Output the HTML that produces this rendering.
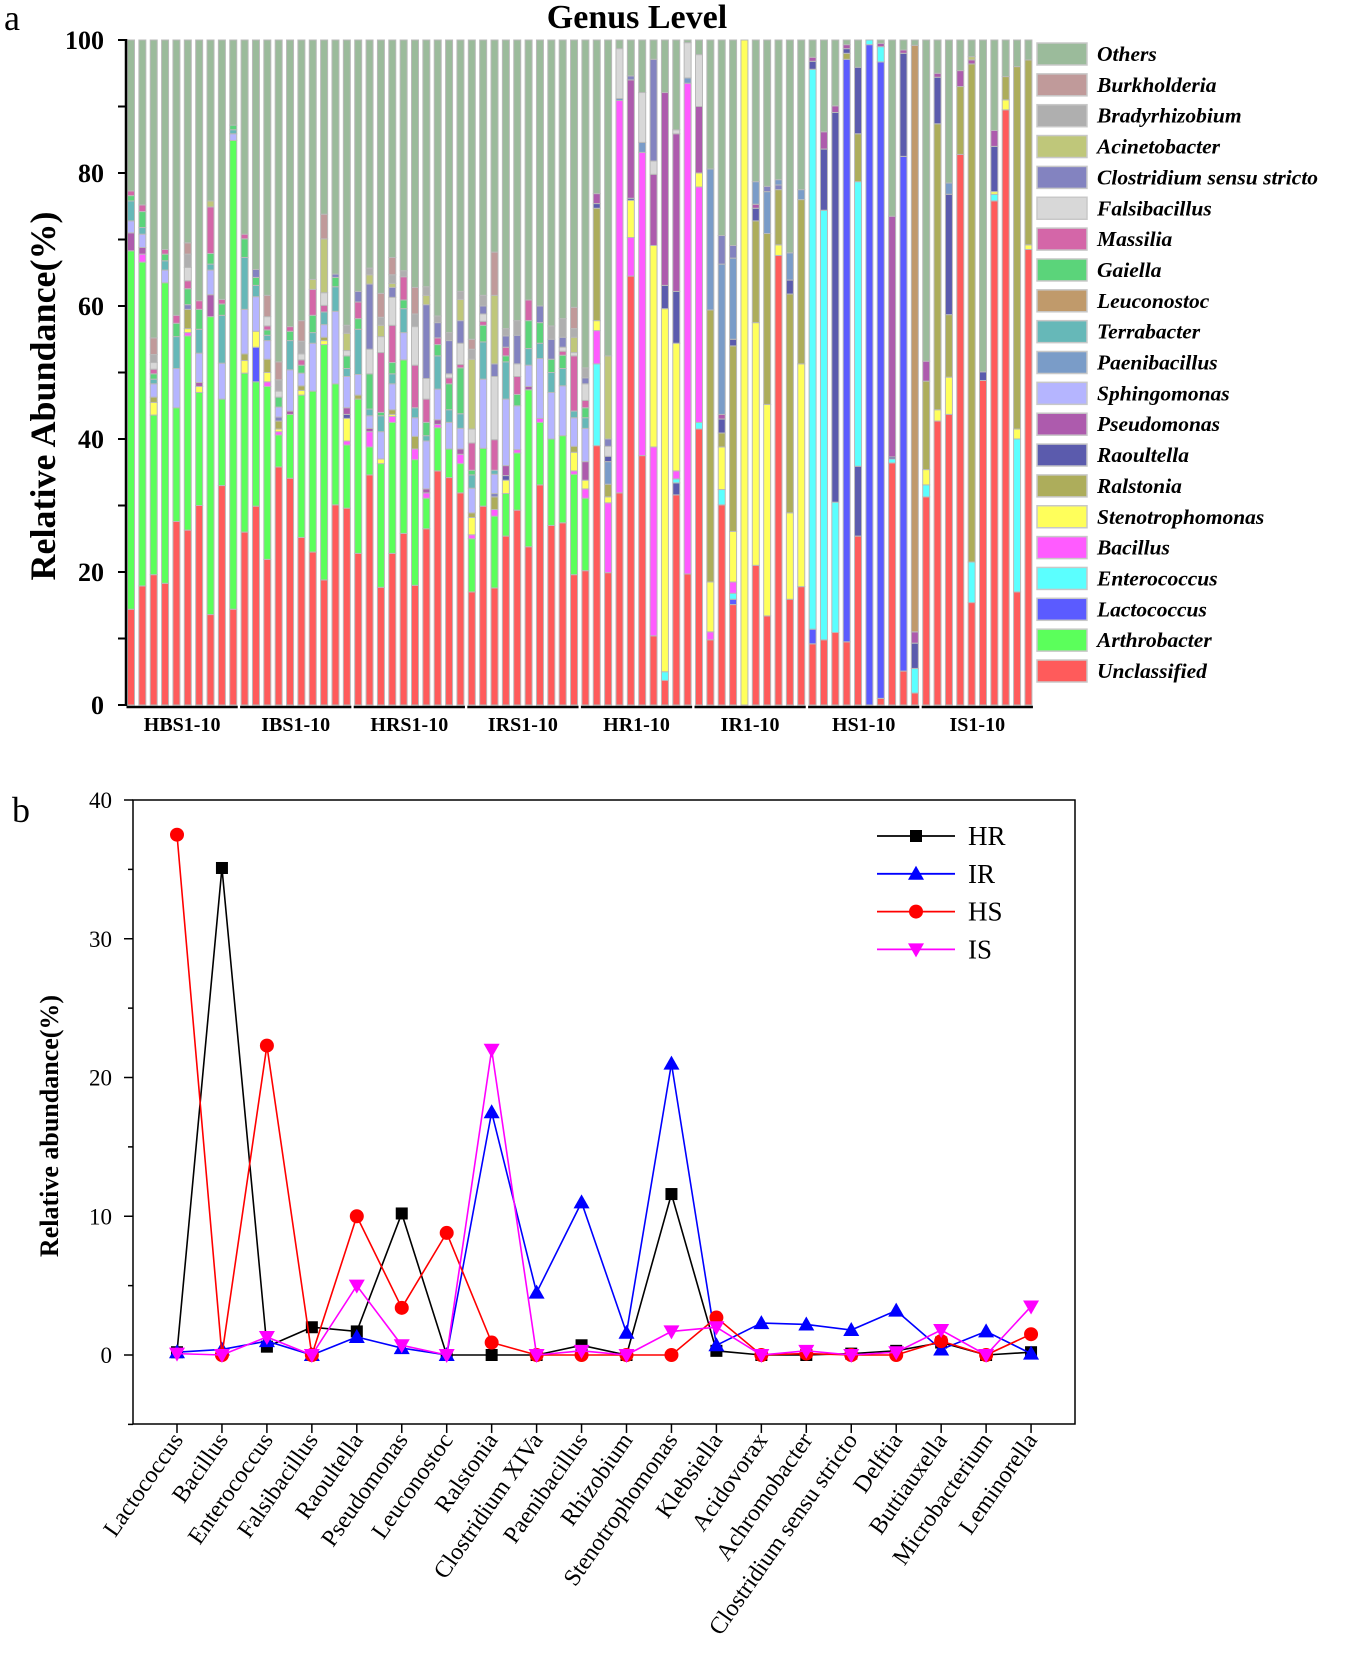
<!DOCTYPE html>
<html><head><meta charset="utf-8"><style>
html,body{margin:0;padding:0;background:#fff;}
svg{display:block;font-family:"Liberation Serif",serif;}
</style></head><body>
<svg id="root" width="1349" height="1658" viewBox="0 0 1349 1658" xmlns="http://www.w3.org/2000/svg">
<text x="4" y="30" font-size="36">a</text>
<text x="637" y="28" font-size="34" font-weight="bold" text-anchor="middle">Genus Level</text>
<text x="0" y="0" font-size="36" font-weight="bold" text-anchor="middle" transform="translate(55,396) rotate(-90)">Relative Abundance(%)</text>
<g id="chartA"></g>
<g id="legendA"></g>
<text x="12" y="822" font-size="36">b</text>
<rect x="133" y="800" width="942" height="624" fill="none" stroke="#000" stroke-width="1.5"/>
<text x="0" y="0" font-size="26" font-weight="bold" text-anchor="middle" transform="translate(58,1126) rotate(-90)">Relative abundance(%)</text>
<g id="chartB"></g>
</svg>
<script>
const genusNames = ["Unclassified","Arthrobacter","Lactococcus","Enterococcus","Bacillus","Stenotrophomonas","Ralstonia","Raoultella","Pseudomonas","Sphingomonas","Paenibacillus","Terrabacter","Leuconostoc","Gaiella","Massilia","Falsibacillus","Clostridium sensu stricto","Acinetobacter","Bradyrhizobium","Burkholderia","Others"];
const genusCodes = ["U","A","L","E","B","S","R","O","P","G","N","T","C","I","M","F","K","Q","Y","H","X"];
const genusColors = ["#FF5B5B","#5BFF5B","#5B5BFF","#5BFFFF","#FF5BFF","#FFFF5B","#ADAD5B","#5B5BAD","#AD5BAD","#B5B5FF","#7A9CC8","#66B8B8","#C09A6B","#5BD47A","#D466A8","#D8D8D8","#8383C0","#BFC77A","#AFAFAF","#C09A9A","#9BBB9B"];
const groupLabels = ["HBS1-10","IBS1-10","HRS1-10","IRS1-10","HR1-10","IR1-10","HS1-10","IS1-10"];
const yTicksA = [0,20,40,60,80,100];
// cumulative tops (%) per bar; remainder to 100 = Others
const barTops = [
"U14.4 A68.3 P71 G72.8 T75.8 I76.6 M77.3","U17.9 A66.6 B67.8 P68.8 G70.8 T71.8 I74.2 M75.2","U19.6 A43.6 S45.5 R46.3 G48.3 T49 I49.8 M50.5 F51.5 Y52.7 H55.2","U18.3 A63.5 G65.4 T66.8 I67.8 M68.5","U27.6 A44.7 G50.6 T55.4 I57.4 M58.6","U26.3 A55.5 B56 S56.6 R59.5 K60.2 I62.6 M63.8 F65.8 Y67.8 H69.5","U30 A47 S47.9 P48.5 G52.9 T56.5 I59.5 M60.8","U13.6 A58.4 P61.7 G65.4 T66.3 I67.9 M74.9 Q75.8","U33 A46 G51.4 T58.6 I60.3 M61","U14.4 A84.9 G85.9 T86.5 I87.2",
"U26 A49.9 S51.8 R52.8 G59.5 T67.3 I70.1 M70.8","U29.9 A48.6 L53.8 S56.2 G61.4 T63.1 I64.3 K65.5","U21.9 A47.9 B48.6 S50 R52 G54.8 T55.6 I56.4 M57 F58.4 H61.6","U35.8 A40.6 B41.1 S41.5 R42.7 K43.3 G44.8 I46.3 F47.2 Y48.9 H51.6","U34.1 A43.7 P44.2 G50.4 T54.8 I56.2 M56.9","U25.2 A46.6 S47.3 R48 G49.9 I51.1 M51.9 F52.8 Y54.7 H57.8","U23 A47.2 G54.4 T56 I58.6 M62.5 Q64","U18.8 A54.2 S54.8 R55.3 G57.2 T59.1 M60.1 F62 Q70.1 H73.8","U30.1 A48.3 G59.2 T62.9 I64.3 K64.8","U29.6 A39.1 B39.7 S43.1 O43.7 P44.7 G49.4 T50.6 I52.5 F53.3 Q55.9 Y57.1",
"U22.8 A46 R46.6 G49.7 T56.5 I58.1 M60.6 K62.2","U34.6 A38.8 B41.1 P41.6 G43.5 T44.5 I49.8 F53.5 K63.3 Q64.7 Y65.7","U17.7 A36.3 S37 G41.1 T43.5 I44 M53 F55.4 Q57.1 Y58.3 H61.9","U22.8 A42.5 B43.4 S43.7 R44.4 G48.3 T49.8 I51.5 M57.1 F61.3 K62.8 Q63.4 Y64.7 H67.3","U25.8 A51.9 G56 T59.6 I60.9 M64.4 Y65.3","U18 A36.9 B38.5 R40.4 G43.2 T44.7 M51.1 F56.9 Y58.8 H62.8","U26.5 A31.1 B31.9 P32.5 G39.7 T40.5 I42.5 M46 F49.1 K60.2 Q61.6 Y62.9","U35.2 A41.7 B42.2 P42.9 G47.5 T52.5 I54.2 M55.2 K57.5 Y58.5","U34.2 A38.5 G42.5 T44.4 I48.3 M49.2 F49.8 K54.8 Y56","U31.9 A36.3 B37.7 P38.5 G41.6 T43.8 I50.7 M51.2 F54.4 K57.8 Q61 Y62.2",
"U17 A25 B25.6 S28.2 R28.9 G32.6 T34.6 I35.3 M39.4 F41.5 Q52 Y53.5 H55","U29.9 A38.6 G49 T54.6 I57.1 M57.7 F58.8 K60 Y61.6","U17.6 A28.4 B29.4 R31.3 K31.8 G34.7 T35.3 M39.9 F49.4 K51.3 Q61.6 H68.1","U25.4 A31.8 S33.8 O34.5 P36 G46 T51.6 I52.5 M53.8 K55.5 Y56.6","U29.3 A37.9 B38.4 G45 I46.7 M49.4 F51.3 K55.6 Y57.8","U23.8 A47.4 P47.9 G51.1 T53.6 I57.8 M60.9","U33.1 A42.5 B43.1 G52.1 T54.4 I57.5 K60","U27 A40 G47 T50 I52 K55 Y57","U27.4 A40.5 G48 T50.6 I52.6 M53.2 F53.8 K55.3 Y58.1","U19.6 A34.7 B35.2 S38 R38.9 G43.2 T44.2 M52.5 F53 Q55.3 Y56.6 H59.8",
"U20.2 A31.1 B32.5 S33.8 P36.6 G41.6 T43.2 I44.7 M45.8 F48.3 K49.2 Y50.7","U39 E51.3 B56.3 S57.8 R74.7 O75.4 P76.9","U19.9 B30.4 S31.3 R33.2 N36.6 O37.4 F38.9 K40 Q52.5","U31.9 B90.9 N91.2 F98.7","U64.5 B70.3 S75.9 O76.2 P94 K94.6","U37.5 B83.1 N84.6 F92.1","U10.4 B38.8 S69.1 P79.8 F81.8 K97.1","U3.7 E5 S59.6 O63.1 P92.1","U31.6 O33.4 E34 B35.2 S54.4 O62.2 P85.9 F86.5","U19.7 B93.5 N94.3 F99.6",
"U41.5 E42.5 B77.9 S80 P90 F97.8","U9.8 B11 S18.5 R59.4 N80.6","U30.1 E32.4 S38.8 R40.9 O43 P43.7 N66.3 K70.6","U15.1 L15.9 E16.8 B18.5 S26.1 R54 O55 N67.2 K69.1","S100","U21 S57.5 R72.8 O74.7 P75.3 N78.7","U13.4 S45.2 R70.9 N77.2 K78","U67.6 S69.2 R77.5 K78.2 N79","U15.9 S28.9 R61.8 O63.9 N68","U17.8 S51.3 R76 N77.5",
"U9.2 L11.4 E95.6 O96.8 P97.4","U9.8 E74.4 O83.6 P86.2","U10.9 E30.5 O89.1 P90.1","U9.5 L97.1 R98 O98.7 P99.3","U25.4 O35.9 E78.7 R85.9 O95.9","L99.3 E100","U1 L96.7 E99 P99.5","U36.4 E37 O37.3 P73.5","U5.1 L82.5 O98 P98.5","U1.8 E5.5 O9.3 P11 C99.2",
"U31.3 E33.1 S35.4 R48.7 P51.7","U42.7 S44.4 R87.4 O94.4 P95","U43.7 S49.3 R58.7 O76.8 N78.5","U82.8 R93 P95.4","U15.4 E21.5 R96.4 P97 Q97.5","U48.8 O50.1","U75.8 E76.8 S77.2 O84 P86.4","U89.5 S91 R94.5","U17 E40 S41.5 R96","U68.5 S69.2 R97"];

const categoriesB = ["Lactococcus","Bacillus","Enterococcus","Falsibacillus","Raoultella","Pseudomonas","Leuconostoc","Ralstonia","Clostridium XIVa","Paenibacillus","Rhizobium","Stenotrophomonas","Klebsiella","Acidovorax","Achromobacter","Clostridium sensu stricto","Delftia","Buttiauxella","Microbacterium","Leminorella"];
const seriesHR = [0.2,35.1,0.6,2.0,1.7,10.2,0,0,0,0.7,0,11.6,0.3,0,0,0.1,0.3,0.9,0,0.2];
const seriesIR = [0.2,0.4,1.0,0,1.3,0.5,0,17.5,4.5,11,1.6,21,0.7,2.3,2.2,1.8,3.2,0.4,1.7,0.1];
const seriesHS = [37.5,0,22.3,0,10.0,3.4,8.8,0.9,0,0,0,0,2.7,0,0.1,0,0,1.0,0,1.5];
const seriesIS = [0.1,0,1.3,0,5.0,0.7,0,22,0,0.3,0,1.7,2.0,0,0.3,0,0.2,1.8,0,3.5];
const seriesNamesB = ["HR","IR","HS","IS"];
const yTicksB = [0,10,20,30,40];

const NS = "http://www.w3.org/2000/svg";
function mk(tag, attrs, parent){const e=document.createElementNS(NS,tag);for(const k in attrs)e.setAttribute(k,attrs[k]);parent.appendChild(e);return e;}

// ---------- Panel A ----------
const gA = document.getElementById('chartA');
const yA = v => 705 - v*6.65;
const xA = i => 131 + i*11.36;
const barW = 7;
barTops.forEach((s,i)=>{
  const g = mk('g',{},gA);
  
  
  let prev = 0;
  const toks = s.split(' ').map(t=>[t[0],parseFloat(t.slice(1))]);
  toks.push(['X',100]);
  toks.forEach(([c,top])=>{
    if(top<=prev) return;
    const gi = genusCodes.indexOf(c);
    const r = mk('rect',{x:xA(i)-barW/2,y:yA(top),width:barW,height:yA(prev)-yA(top),fill:genusColors[gi],stroke:'#b9b9b9','stroke-width':1},g);
    
    
    prev = top;
  });
});
const axA = mk('line',{x1:126,y1:yA(100)-1,x2:126,y2:yA(0)+1,stroke:'#000','stroke-width':2.5},gA);


for(let v=0;v<=100;v+=10){
  const t = mk('line',{x1:118,y1:yA(v),x2:126,y2:yA(v),stroke:'#000','stroke-width':2},gA);
  
  
}
yTicksA.forEach(v=>{
  const t = mk('text',{x:104,y:yA(v)+9,'font-size':26,'font-weight':'bold','text-anchor':'end'},gA);
  t.textContent = v;
  
  
});
groupLabels.forEach((lab,gi)=>{
  const x1 = xA(gi*10)-barW/2-1, x2 = xA(gi*10+9)+barW/2+1;
  const l = mk('line',{x1:x1,y1:707,x2:x2,y2:707,stroke:'#000','stroke-width':2.5},gA);
  
  
  const t = mk('text',{x:(x1+x2)/2,y:731,'font-size':20,'font-weight':'bold','text-anchor':'middle'},gA);
  t.textContent = lab;
  
  
});
const lgA = document.getElementById('legendA');
for(let k=20;k>=0;k--){
  const row = 20-k;
  const y = 43 + row*30.85;
  const g = mk('g',{},lgA);
  
  
  mk('rect',{x:1037,y:y,width:50,height:22,fill:genusColors[k],stroke:'#c8c8c8','stroke-width':1.5},g);
  const t = mk('text',{x:1097,y:y+18,'font-size':21.5,'font-weight':'bold','font-style':'italic'},g);
  t.textContent = genusNames[k];
}

// ---------- Panel B ----------
const gB = document.getElementById('chartB');
const yB = v => 1355 - v*13.875;
const xB = i => 177 + i*44.95;
for(let v=-5;v<=40;v+=5){
  const major = v%10===0;
  const t = mk('line',{x1:major?124:128,y1:yB(v),x2:133,y2:yB(v),stroke:'#000','stroke-width':1.5},gB);
  
  
}
yTicksB.forEach(v=>{
  const t = mk('text',{x:112,y:yB(v)+8,'font-size':23,'text-anchor':'end'},gB);
  t.textContent = v;
  
  
});
categoriesB.forEach((c,i)=>{
  const tk = mk('line',{x1:xB(i),y1:1424,x2:xB(i),y2:1433,stroke:'#000','stroke-width':1.5},gB);
  
  
  const t = mk('text',{x:0,y:0,'font-size':24,'text-anchor':'end',transform:'translate('+(xB(i)+7)+',1440) rotate(-55)'},gB);
  t.textContent = c;
  
  
});
const seriesB = [seriesHR,seriesIR,seriesHS,seriesIS];
const colorsB = ["#000000","#0000FF","#FF0000","#FF00FF"];
function marker(kind,x,y,color,parent){
  if(kind===0) return mk('rect',{x:x-6,y:y-6,width:12,height:12,fill:color},parent);
  if(kind===1) return mk('polygon',{points:(x)+','+(y-8)+' '+(x-8)+','+(y+6)+' '+(x+8)+','+(y+6),fill:color},parent);
  if(kind===2) return mk('circle',{cx:x,cy:y,r:7,fill:color},parent);
  return mk('polygon',{points:(x)+','+(y+8)+' '+(x-8)+','+(y-6)+' '+(x+8)+','+(y-6),fill:color},parent);
}
seriesB.forEach((vals,si)=>{
  const g = mk('g',{},gB);
  
  
  const pl = mk('polyline',{points:vals.map((v,i)=>xB(i)+','+yB(v)).join(' '),fill:'none',stroke:colorsB[si],'stroke-width':1.6},g);
  
  
  vals.forEach((v,i)=>{
    const m = marker(si,xB(i),yB(v),colorsB[si],g);
    
    
  });
});
seriesNamesB.forEach((n,si)=>{
  const y = 836 + si*37.8;
  const g = mk('g',{},gB);
  
  
  mk('line',{x1:877,y1:y,x2:955,y2:y,stroke:colorsB[si],'stroke-width':1.8},g);
  marker(si,916,y,colorsB[si],g);
  const t = mk('text',{x:968,y:y+9,'font-size':27},g);
  t.textContent = n;
});
</script>
</body></html>
